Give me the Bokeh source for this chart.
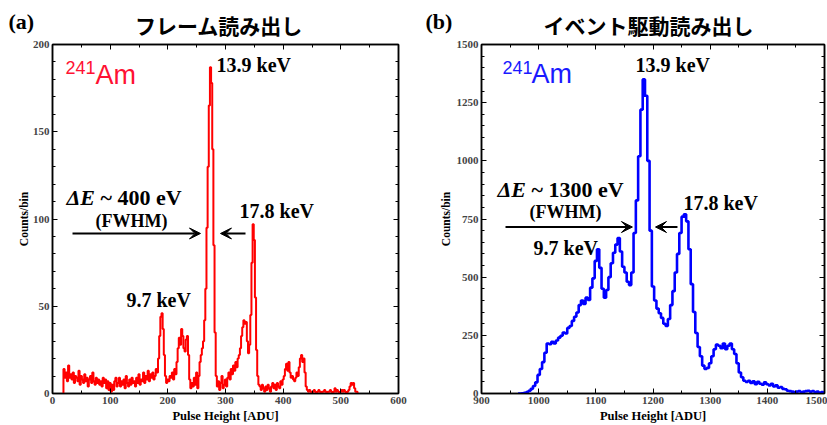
import numpy as np
from bokeh.plotting import figure
from bokeh.models import Range1d, SingleIntervalTicker, LinearAxis, Label, Arrow, VeeHead
from bokeh.layouts import row, column
from bokeh.embed import file_html
from bokeh.resources import INLINE

# ---------------- data ----------------
frame_title = "フレーム読み出し"
event_title = "イベント駆動読み出し"

# Frame readout histogram: bin centres start at 18 ADU, 2 ADU per bin
frame_start, frame_step = 18, 2
frame_counts = [
    0,
    14, 9, 12, 7, 16, 9, 11, 8, 12, 6,
    10, 9, 7, 13, 5, 10, 8, 6, 11, 7,
    9, 4, 8, 10, 6, 12, 7, 5, 9, 6,
    8, 5, 7, 4, 9, 6, 8, 3, 7, 2,
    6, 1, 5, 2, 7, 9, 4, 6, 9, 4,
    7, 5, 8, 3, 10, 6, 4, 8, 5, 9,
    6, 7, 4, 9, 6, 11, 5, 8, 7, 12,
    6, 10, 8, 13, 7, 11, 9, 12, 8, 10,
    14, 12, 20, 33, 44, 46, 37, 22, 10, 6,
    8, 7, 10, 9, 12, 8, 14, 11, 18, 26,
    32, 28, 37, 33, 26, 24, 31, 33, 22, 8,
    3, 6, 4, 9, 5, 12, 3, 10, 18, 22,
    26, 30, 42, 60, 95, 130, 165, 187, 178, 140,
    85, 35, 10, 4, 7, 2, 6, 10, 3, 5,
    8, 4, 9, 12, 8, 14, 11, 16, 13, 18,
    15, 20, 22, 26, 33, 38, 42, 40, 41, 30,
    23, 28, 45, 75, 97, 88, 55, 25, 10, 5,
    4, 2, 5, 3, 1, 4, 2, 5, 3, 1,
    4, 6, 3, 5, 2, 6, 4, 3, 7, 5,
    8, 10, 14, 17, 13, 18, 12, 9, 10, 8,
    7, 9, 12, 10, 15, 20, 22, 18, 20, 12,
    4, 2, 1, 2, 1, 0, 1, 2, 1, 0,
    1, 2, 1, 0, 1, 1, 2, 1, 0, 1,
    1, 2, 1, 0, 1, 3, 1, 2, 1, 0,
    1, 2, 1, 2, 1, 0, 1, 2, 4, 6,
    5, 6, 3, 1, 1, 0,
]

# Event-driven readout histogram: bin centres start at 964 ADU, 4 ADU per bin
event_start, event_step = 964, 4
event_counts = [
    0, 0, 1, 3, 6, 12, 20, 32, 48,
    80, 105, 135, 175, 215, 212, 222, 215, 228, 240,
    248, 262, 258, 282, 290, 312, 330, 348, 380, 400,
    385, 412, 402, 455, 495, 570, 620, 540, 450, 412,
    445, 500, 560, 605, 640, 668, 610, 545, 520, 480,
    466, 520, 690, 830, 1020, 1220, 1350, 1280, 1000, 700,
    460, 400, 365, 345, 325, 300, 290, 320, 380, 440,
    520, 600, 690, 760, 770, 740, 620, 470, 350, 260,
    200, 160, 120, 105, 110, 130, 160, 190, 210, 205,
    195, 215, 190, 205, 215, 190, 170, 130, 90, 70,
    55, 50, 55, 45, 52, 40, 50, 42, 38, 48,
    40, 35, 42, 30, 35, 25, 28, 20, 18, 12,
    10, 8, 6, 8, 10, 6, 8, 10, 12, 8,
    10, 6, 8, 4, 6, 3,
]

frame_x_ticks = 100
frame_y_ticks = 50
event_x_ticks = 100
event_y_ticks = 250

SERIF = "Liberation Serif"
SANS = "Liberation Sans"
CJK = "Noto Sans CJK JP"

HEADER_H = 39
PANEL_H = 425 - HEADER_H


def make_panel(width, border_left, border_right, xr, yr, xtick, ytick, yminor, ylab_standoff):
    p = figure(width=width, height=PANEL_H, output_backend="svg", toolbar_location=None,
               x_range=Range1d(*xr), y_range=Range1d(*yr),
               min_border_left=border_left, min_border_right=border_right,
               min_border_top=5, min_border_bottom=32,
               background_fill_color="white", border_fill_color="white")
    p.xgrid.visible = False
    p.ygrid.visible = False
    p.outline_line_color = "black"
    p.outline_line_width = 1.5
    xt = SingleIntervalTicker(interval=xtick, num_minor_ticks=2)
    yt = SingleIntervalTicker(interval=ytick, num_minor_ticks=yminor)
    p.xaxis.ticker = xt
    p.yaxis.ticker = yt
    for ax in (p.xaxis[0], p.yaxis[0]):
        ax.axis_line_width = 1.5
        ax.major_tick_in = 5
        ax.major_tick_out = 0
        ax.minor_tick_in = 3
        ax.minor_tick_out = 0
        ax.major_tick_line_width = 1
        ax.minor_tick_line_width = 1
        ax.major_label_text_font = SERIF
        ax.major_label_text_font_style = "bold"
        ax.major_label_text_font_size = "11px"
        ax.major_label_standoff = 3
        ax.axis_label_text_font = SERIF
        ax.axis_label_text_font_style = "bold"
        ax.axis_label_text_color = "black"
    p.xaxis.axis_label = "Pulse Height [ADU]"
    p.xaxis.axis_label_text_font_size = "12.5px"
    p.xaxis.axis_label_standoff = 2
    p.yaxis.axis_label = "Counts/bin"
    p.yaxis.axis_label_text_font_size = "11.5px"
    p.yaxis.axis_label_standoff = ylab_standoff
    for side, tk in (("above", xt), ("right", yt)):
        ax = LinearAxis(ticker=tk, major_label_text_font_size="1px", major_label_text_color=None,
                        major_label_standoff=0,
                        axis_line_width=1.5, major_tick_in=5, major_tick_out=0,
                        minor_tick_in=3, minor_tick_out=0)
        p.add_layout(ax, side)
    return p


def add_text(p, x, y, text, size, color="black", font=SERIF, style="bold",
             align="left", baseline="middle"):
    p.add_layout(Label(x=x, y=y, text=text, text_font=font, text_font_style=style,
                       text_font_size=size, text_color=color, text_align=align,
                       text_baseline=baseline))


def add_arrow(p, x0, x1, y):
    p.add_layout(Arrow(end=VeeHead(size=11, fill_color="black", line_color="black", line_width=1),
                       x_start=x0, y_start=y, x_end=x1, y_end=y,
                       line_color="black", line_width=2))


# ---------------- header (panel letters and titles) ----------------
head = figure(width=827, height=HEADER_H, output_backend="svg", toolbar_location=None,
              x_range=Range1d(0, 827), y_range=Range1d(0, HEADER_H),
              x_axis_location=None, y_axis_location=None,
              min_border_left=0, min_border_right=0, min_border_top=0, min_border_bottom=0,
              background_fill_color="white", border_fill_color="white")
head.xgrid.visible = False
head.ygrid.visible = False
head.outline_line_color = None
add_text(head, 8, HEADER_H - 21, "(a)", "22px")
add_text(head, 218.5, HEADER_H - 24, frame_title, "21px", font=CJK, align="center")
add_text(head, 425, HEADER_H - 21, "(b)", "22px")
add_text(head, 648, HEADER_H - 24, event_title, "21px", font=CJK, align="center")

# ---------------- panel (a) ----------------
p1 = make_panel(420, 52, 22, (0, 600), (0, 200), frame_x_ticks, frame_y_ticks, 5, 0)
fx = frame_start + frame_step * np.arange(len(frame_counts))
p1.step(fx, frame_counts, mode="center", line_color="#ff0000", line_width=2)

add_text(p1, 22.5, 190.3, "241", "18px", color="#ff1133", font=SANS, style="normal", baseline="top")
add_text(p1, 74.6, 191.3, "Am", "27px", color="#ff1133", font=SANS, style="normal", baseline="top")
add_text(p1, 284.4, 188, "13.9 keV", "20px")
add_text(p1, 24.3, 112.3, "ΔE", "22px", style="bold italic")
add_text(p1, 83.2, 112.3, "~ 400 eV", "22px")
add_text(p1, 137, 99.1, "(FWHM)", "18px", align="center")
add_text(p1, 324.3, 104.3, "17.8 keV", "20px")
add_text(p1, 128.3, 53.3, "9.7 keV", "20px")
add_arrow(p1, 34.7, 256.6, 91.7)
add_arrow(p1, 334.7, 291.3, 91.7)

# ---------------- panel (b) ----------------
p2 = make_panel(407, 61, 3, (900, 1500), (0, 1500), event_x_ticks, event_y_ticks, 5, 2)
ex = event_start + event_step * np.arange(len(event_counts))
p2.step(ex, event_counts, mode="center", line_color="#0000ff", line_width=2.6)

add_text(p2, 936.7, 1431, "241", "18px", color="#1a1aff", font=SANS, style="normal", baseline="top")
add_text(p2, 987.5, 1438, "Am", "27px", color="#1a1aff", font=SANS, style="normal", baseline="top")
add_text(p2, 1169.4, 1413.8, "13.9 keV", "20px")
add_text(p2, 928, 875, "ΔE", "22px", style="bold italic")
add_text(p2, 987.5, 875, "~ 1300 eV", "22px")
add_text(p2, 1047, 780, "(FWHM)", "18px", align="center")
add_text(p2, 1253.3, 819, "17.8 keV", "20px")
add_text(p2, 991, 625, "9.7 keV", "20px")
add_arrow(p2, 942, 1164, 715.5)
add_arrow(p2, 1242.8, 1204.4, 715.5)

layout = column(head, row(p1, p2))
open("out.html", "w").write(file_html(layout, INLINE))
